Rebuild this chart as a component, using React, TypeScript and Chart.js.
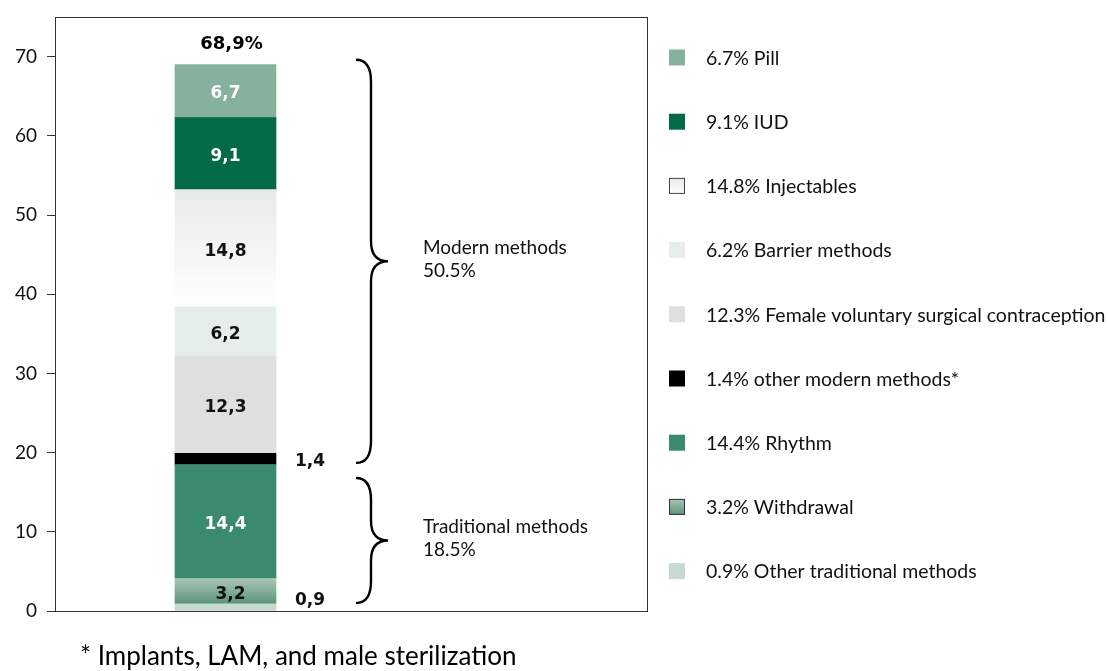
import React, { useEffect, useRef } from 'react';
import { Chart, registerables } from 'chart.js';

Chart.register(...registerables);

// ---------------- data ----------------
const methodLabels = [
  '0.9% Other traditional methods',
  '3.2% Withdrawal',
  '14.4% Rhythm',
  '1.4% other modern methods*',
  '12.3% Female voluntary surgical contraception',
  '6.2% Barrier methods',
  '14.8% Injectables',
  '9.1% IUD',
  '6.7% Pill',
];
const methodValues = [0.9, 3.2, 14.4, 1.4, 12.3, 6.2, 14.8, 9.1, 6.7];
const valueLabels = ['0,9', '3,2', '14,4', '1,4', '12,3', '6,2', '14,8', '9,1', '6,7'];
const totalLabel = '68,9%';
const barPosition = [0.288];
const groupNames = ['Traditional methods', 'Modern methods'];
const groupTotals = ['18.5%', '50.5%'];
const groupFrom = [1.0, 18.7];
const groupTo = [16.8, 69.6];
const yTicks = [0, 10, 20, 30, 40, 50, 60, 70];
const footnote = '* Implants, LAM, and male sterilization';

// ---------------- styles ----------------
const FONT = 'Lato, "Noto Sans", sans-serif';
const LABEL_FONT = '"DejaVu Sans", sans-serif';
const segmentColors = ['#c4dbcd', '#83b09a', '#3a8a6d', '#000000', '#dfdfdf', '#e6eee9', '#f2f5f3', '#036a47', '#86b19c'];
const segmentGradients: (string[] | null)[] = [null, ['#a9c6b6', '#5b9479'], null, null, null, null, ['#e6ebe9', '#ffffff'], null, null];
const swatchBorders = [null, '#333', null, null, null, null, '#444', null, null];
const labelColors = ['#111', '#111', '#ffffff', '#111', '#111', '#111', '#111', '#ffffff', '#ffffff'];
const labelOutside = [true, false, false, true, false, false, false, false, false];

const gradientPlugin = {
  id: 'segGradients',
  beforeDatasetsDraw(chart: any) {
    const ctx = chart.ctx;
    chart.data.datasets.forEach((ds: any, i: number) => {
      const g = segmentGradients[i];
      if (!g) return;
      const meta = chart.getDatasetMeta(i);
      meta.data.forEach((el: any) => {
        const top = Math.min(el.y, el.base);
        const bot = Math.max(el.y, el.base);
        const grad = ctx.createLinearGradient(0, top, 0, bot);
        grad.addColorStop(0, g[0]);
        grad.addColorStop(1, g[1]);
        el.options.backgroundColor = grad;
      });
    });
  },
};

const framePlugin = {
  id: 'frame',
  afterDraw(chart: any) {
    const { ctx, chartArea } = chart;
    ctx.save();
    ctx.strokeStyle = '#333';
    ctx.lineWidth = 1;
    ctx.strokeRect(
      Math.round(chartArea.left) + 0.5,
      Math.round(chartArea.top) + 0.5,
      Math.round(chartArea.right - chartArea.left),
      Math.round(chartArea.bottom - chartArea.top)
    );
    ctx.restore();
  },
};

const labelPlugin = {
  id: 'segLabels',
  afterDatasetsDraw(chart: any) {
    const { ctx, chartArea } = chart;
    ctx.save();
    ctx.font = `bold 17px ${LABEL_FONT}`;
    ctx.textBaseline = 'middle';
    let topY = Infinity;
    let cx = 0;
    chart.data.datasets.forEach((ds: any, i: number) => {
      const meta = chart.getDatasetMeta(i);
      const el: any = meta.data[0];
      if (!el) return;
      const center = (el.y + el.base) / 2;
      topY = Math.min(topY, el.y);
      cx = el.x;
      ctx.fillStyle = labelColors[i];
      if (labelOutside[i]) {
        ctx.textAlign = 'left';
        ctx.fillText(valueLabels[i], el.x + el.width / 2 + 19, Math.min(center + 3, chartArea.bottom - 10));
      } else {
        ctx.textAlign = 'center';
        ctx.fillText(valueLabels[i], el.x + (i === 1 ? 5 : 0), center + 3);
      }
    });
    ctx.fillStyle = '#000';
    ctx.textAlign = 'center';
    ctx.font = `bold 18px ${LABEL_FONT}`;
    ctx.fillText(totalLabel, cx + 6, topY - 20);
    ctx.restore();
  },
};

const bracePlugin = {
  id: 'braces',
  afterDraw(chart: any) {
    const { ctx } = chart;
    const y = chart.scales.y;
    const x0 = 356;
    const xv = 371;
    const xt = 388;
    ctx.save();
    ctx.strokeStyle = '#000';
    ctx.lineWidth = 2.4;
    groupNames.forEach((name, i) => {
      const top = y.getPixelForValue(groupTo[i]);
      const bot = y.getPixelForValue(groupFrom[i]);
      const mid = (top + bot) / 2;
      const r = 22;
      const rt = 20;
      ctx.beginPath();
      ctx.moveTo(x0, top);
      ctx.quadraticCurveTo(xv, top, xv, top + r);
      ctx.lineTo(xv, mid - rt);
      ctx.quadraticCurveTo(xv, mid, xt, mid);
      ctx.quadraticCurveTo(xv, mid, xv, mid + rt);
      ctx.lineTo(xv, bot - r);
      ctx.quadraticCurveTo(xv, bot, x0, bot);
      ctx.stroke();
      ctx.fillStyle = '#111';
      ctx.font = `19px ${FONT}`;
      ctx.textAlign = 'left';
      ctx.textBaseline = 'middle';
      ctx.fillText(name, 423, mid - 13.5);
      ctx.fillText(groupTotals[i], 423, mid + 9.5);
    });
    ctx.restore();
  },
};

const legendPlugin = {
  id: 'sideLegend',
  afterDraw(chart: any) {
    const { ctx } = chart;
    const n = chart.data.datasets.length;
    ctx.save();
    ctx.font = `19.5px ${FONT}`;
    ctx.textAlign = 'left';
    ctx.textBaseline = 'middle';
    for (let k = 0; k < n; k++) {
      const i = n - 1 - k;
      const ds = chart.data.datasets[i];
      const cy = 57.5 + k * 64.2;
      const bx = 669;
      const by = cy - 8;
      const g = segmentGradients[i];
      if (g) {
        const grad = ctx.createLinearGradient(0, by, 0, by + 16);
        grad.addColorStop(0, g[0]);
        grad.addColorStop(1, g[1]);
        ctx.fillStyle = grad;
      } else {
        ctx.fillStyle = segmentColors[i];
      }
      ctx.fillRect(bx, by, 16, 16);
      const b = swatchBorders[i];
      if (b) {
        ctx.strokeStyle = b;
        ctx.lineWidth = 1;
        ctx.strokeRect(bx + 0.5, by + 0.5, 15, 15);
      }
      ctx.fillStyle = '#111';
      ctx.fillText(ds.label, 706, cy + 1);
    }
    ctx.restore();
  },
};

const footnotePlugin = {
  id: 'footnote',
  afterDraw(chart: any) {
    const { ctx } = chart;
    ctx.save();
    ctx.font = `26px ${FONT}`;
    ctx.fillStyle = '#000';
    ctx.textAlign = 'left';
    ctx.textBaseline = 'middle';
    ctx.fillText(footnote, 80, 657);
    ctx.restore();
  },
};

export default function App() {
  const ref = useRef<HTMLCanvasElement>(null);
  useEffect(() => {
    if (!ref.current) return;
    const chart = new Chart(ref.current, {
      type: 'bar',
      data: {
        datasets: methodLabels.map((label, i) => ({
          label,
          data: [{ x: barPosition[0], y: methodValues[i] }],
          backgroundColor: segmentColors[i],
          borderWidth: 0,
          barThickness: 101,
        })),
      },
      plugins: [gradientPlugin, framePlugin, labelPlugin, bracePlugin, legendPlugin, footnotePlugin],
      options: {
        responsive: false,
        animation: false,
        layout: { padding: { top: 17, right: 461, bottom: 60, left: 0 } },
        plugins: { legend: { display: false }, tooltip: { enabled: false } },
        scales: {
          x: { type: 'linear', min: 0, max: 1, display: false, stacked: true, offset: false },
          y: {
            stacked: true,
            min: 0,
            max: 75,
            afterFit: (s: any) => {
              s.width = 55;
              s.paddingTop = 0;
              s.paddingBottom = 0;
            },
            afterBuildTicks: (s: any) => {
              s.ticks = yTicks.map((v) => ({ value: v }));
            },
            ticks: { font: { family: FONT, size: 19 }, color: '#111', padding: 10 },
            grid: { drawOnChartArea: false, tickLength: 8, color: '#333' },
            border: { color: '#333', width: 1 },
          },
        },
      } as any,
    });
    return () => chart.destroy();
  }, []);
  return (
    <div style={{ position: 'fixed', left: 0, top: 0, width: 1108, height: 671, background: '#fff' }}>
      <canvas ref={ref} width={1108} height={671} style={{ width: 1108, height: 671, display: 'block' }} />
    </div>
  );
}
